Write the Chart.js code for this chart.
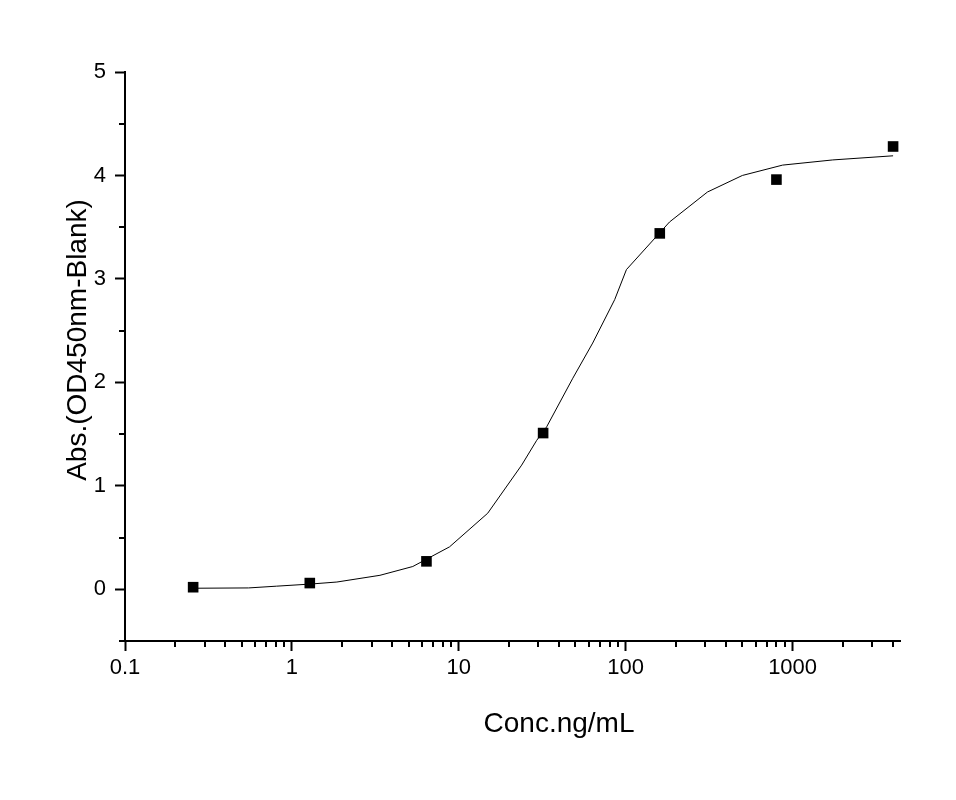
<!DOCTYPE html>
<html>
<head>
<meta charset="utf-8">
<script src="https://cdn.jsdelivr.net/npm/chart.js@4"></script>
<style>
  body { margin: 0; background: #fff; }
  canvas { display: block; }
</style>
</head>
<body>
<canvas id="chart" width="956" height="800"></canvas>
<script>
'use strict';

// measured points
let conc = [0.256, 1.28, 6.4, 32, 160, 800, 4000];
let absorb = [0.02, 0.06, 0.27, 1.51, 3.44, 3.96, 4.28];

// fitted curve
let fitConc = [0.256, 0.55, 0.81, 1.28, 1.86, 3.37, 5.3, 8.8, 14.9, 23.8, 29.3, 33.6, 48.2, 63.4, 85.9, 101, 183, 309, 500, 871, 1740, 4000];
let fitAbs = [0.01, 0.013, 0.03, 0.05, 0.07, 0.135, 0.22, 0.41, 0.735, 1.2, 1.44, 1.57, 2.04, 2.38, 2.8, 3.09, 3.55, 3.84, 4.0, 4.1, 4.15, 4.19];

let xTicks = [0.1, 1, 10, 100, 1000];
let yTicks = [0, 1, 2, 3, 4, 5];
let xTitle = 'Conc.ng/mL';
let yTitle = 'Abs.(OD450nm-Blank)';

const FONT = "'Liberation Sans', Arial, sans-serif";

let points = [];
for (let i = 0; i < conc.length; i++) {
  points.push({ x: conc[i], y: absorb[i] });
}
let curve = [];
for (let i = 0; i < fitConc.length; i++) {
  curve.push({ x: fitConc[i], y: fitAbs[i] });
}

// minor ticks + axis titles
const extras = {
  id: 'extras',
  afterDraw(chart) {
    const ctx = chart.ctx;
    const xs = chart.scales.x;
    const ys = chart.scales.y;
    ctx.save();
    ctx.strokeStyle = '#000';
    ctx.lineWidth = 2;
    ctx.beginPath();
    for (let d = 0.1; d < xs.max; d *= 10) {
      for (let m = 2; m <= 9; m++) {
        let v = d * m;
        if (v > xs.max) break;
        let px = Math.round(xs.getPixelForValue(v));
        ctx.moveTo(px, xs.top);
        ctx.lineTo(px, xs.top + 6);
      }
    }
    for (let v = -0.5; v < 5; v += 1) {
      let py = Math.round(ys.getPixelForValue(v));
      ctx.moveTo(ys.right, py);
      ctx.lineTo(ys.right - 6, py);
    }
    ctx.stroke();

    ctx.fillStyle = '#000';
    ctx.font = '28px ' + FONT;
    ctx.textAlign = 'center';
    ctx.textBaseline = 'middle';
    ctx.fillText(xTitle, 559, 724);
    ctx.translate(78, 340);
    ctx.rotate(-Math.PI / 2);
    ctx.fillText(yTitle, 0, 0);
    ctx.restore();
  }
};

const config = {
  type: 'scatter',
  data: {
    datasets: [
      {
        label: 'fit',
        data: curve,
        showLine: true,
        borderColor: '#000',
        borderWidth: 1,
        pointRadius: 0,
        tension: 0,
        fill: false
      },
      {
        label: 'data',
        data: points,
        pointStyle: 'rect',
        pointRadius: 7.5,
        backgroundColor: '#000',
        borderColor: '#000',
        borderWidth: 0
      }
    ]
  },
  options: {
    responsive: false,
    animation: false,
    layout: { padding: { top: 72, right: 56, left: 0, bottom: 0 } },
    plugins: {
      legend: { display: false },
      tooltip: { enabled: false }
    },
    scales: {
      x: {
        type: 'logarithmic',
        min: 0.1,
        max: 4400,
        afterFit: s => { s.height = 159; },
        afterBuildTicks: s => { s.ticks = xTicks.map(v => ({ value: v })); },
        grid: { drawOnChartArea: false, tickLength: 10, tickWidth: 2, tickColor: '#000' },
        border: { color: '#000', width: 2 },
        ticks: {
          color: '#000',
          font: { family: FONT, size: 22 },
          padding: 4,
          maxRotation: 0,
          autoSkip: false,
          callback: v => String(v)
        }
      },
      y: {
        min: -0.5,
        max: 5,
        afterFit: s => { s.width = 125; },
        afterBuildTicks: s => { s.ticks = yTicks.map(v => ({ value: v })); },
        grid: { drawOnChartArea: false, tickLength: 10, tickWidth: 2, tickColor: '#000' },
        border: { color: '#000', width: 2 },
        ticks: {
          color: '#000',
          font: { family: FONT, size: 22 },
          padding: 9,
          callback: v => String(v)
        }
      }
    }
  },
  plugins: [extras]
};

new Chart(document.getElementById('chart'), config);
</script>
</body>
</html>
